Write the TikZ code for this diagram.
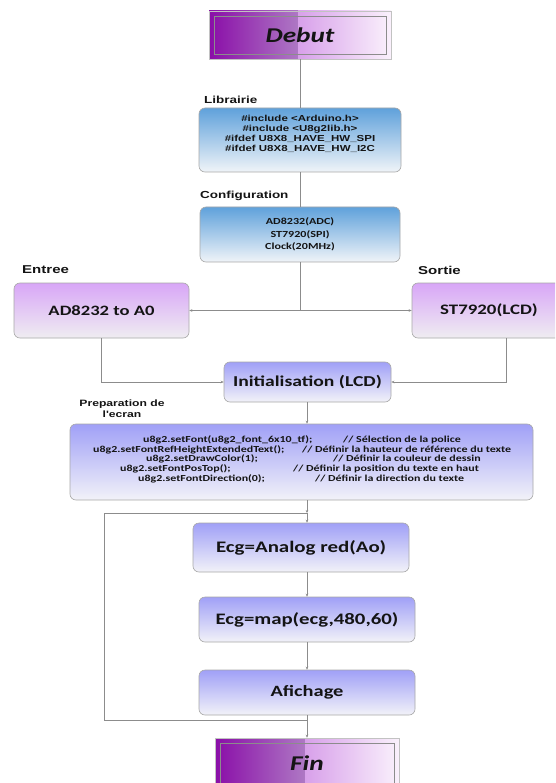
\documentclass[tikz,border=0pt]{standalone}
\usepackage{fontspec}
\usetikzlibrary{arrows.meta}
\newfontfamily\boxfont[FakeStretch=1.3]{Carlito}
\newfontfamily\labfont[FakeStretch=1.32]{Liberation Sans}
\definecolor{linegray}{HTML}{8C8C8C}
\definecolor{edgegray}{HTML}{A8A8A8}
\definecolor{inkc}{HTML}{141414}
\definecolor{purpA}{HTML}{8A0EA8}
\definecolor{purpB}{HTML}{AE78C4}
\definecolor{purpC}{HTML}{D8A0EA}
\definecolor{purpD}{HTML}{FAF1FC}
\definecolor{blueTop}{HTML}{5FA1DB}
\definecolor{blueMid}{HTML}{B4D4EE}
\definecolor{blueBot}{HTML}{F0F4F8}
\definecolor{lavTop}{HTML}{D8A6F7}
\definecolor{lavMid}{HTML}{EEDDF8}
\definecolor{lavBot}{HTML}{EFEDF1}
\definecolor{periTop}{HTML}{A0A0F7}
\definecolor{periMid}{HTML}{CFCFF8}
\definecolor{periBot}{HTML}{F2F2F8}
\tikzset{
  box/.style={draw=edgegray, line width=0.6pt, rounded corners=6pt, inner sep=0pt, text=inkc},
  bluebox/.style={box, top color=blueTop, middle color=blueMid, bottom color=blueBot},
  lavbox/.style={box, top color=lavTop, middle color=lavMid, bottom color=lavBot},
  peribox/.style={box, top color=periTop, middle color=periMid, bottom color=periBot},
  endbox/.style={draw=edgegray!70, line width=0.6pt, inner sep=0pt, text=inkc,
    font=\boxfont\bfseries\itshape\fontsize{21}{24}\selectfont},
  caption/.style={inner sep=0pt, text=inkc},
  link/.style={draw=linegray, line width=0.6pt},
  arr/.style={link, -{Stealth[length=3pt,width=2.6pt]}},
  codetxt/.style={inner sep=0pt, anchor=base west, text=inkc,
    font=\boxfont\bfseries\fontsize{9.2}{10}\selectfont},
}
\begin{document}
\begin{tikzpicture}[x=1pt,y=-1pt]
\clip (0,0) rectangle (555,783);
\useasboundingbox (0,0) rectangle (555,783);
\fill[white] (0,0) rectangle (555,783);

% start block
\shade[left color=purpA, right color=purpB] (209,11) rectangle (298,59);
\shade[left color=purpC, right color=purpD] (298,11) rectangle (391,59);
\node[endbox, minimum width=182pt, minimum height=48pt] (debut) at (300,35) {Debut};
\draw[black!45, line width=0.5pt] (214,16) rectangle (386,54);

% libraries
\node[caption, anchor=west, font=\labfont\bfseries\fontsize{10.2}{12}\selectfont] (liblab) at (204,100) {Librairie};
\node[bluebox, minimum width=202pt, minimum height=64pt] (lib) at (300,140) {};
\node[caption, align=center, font=\labfont\bfseries\fontsize{8.7}{10}\selectfont] (libtxt) at (300,134)
  {\#include <Arduino.h>\\ \#include <U8g2lib.h>\\ \#ifdef U8X8\_HAVE\_HW\_SPI\\ \#ifdef U8X8\_HAVE\_HW\_I2C};

% configuration
\node[caption, anchor=west, font=\labfont\bfseries\fontsize{10.2}{12}\selectfont] (conflab) at (200,196) {Configuration};
\node[bluebox, minimum width=200pt, minimum height=55pt, align=center,
  font=\boxfont\bfseries\fontsize{9.3}{12.3}\selectfont] (conf) at (300,234.5)
  {AD8232(ADC)\\ ST7920(SPI)\\ Clock(20MHz)};

% input / output
\node[caption, anchor=west, font=\labfont\bfseries\fontsize{11.4}{13}\selectfont] (inlab) at (22,270) {Entree};
\node[lavbox, minimum width=175pt, minimum height=55pt,
  font=\boxfont\bfseries\fontsize{14.3}{16}\selectfont] (inbox) at (101.5,310.5) {AD8232 to A0};
\node[caption, anchor=west, font=\labfont\bfseries\fontsize{11.4}{13}\selectfont] (outlab) at (418,270) {Sortie};
\node[lavbox, minimum width=153pt, minimum height=55pt] (outbox) at (488.5,310.5) {};
\node[caption, font=\boxfont\bfseries\fontsize{14.5}{16}\selectfont] (outtxt) at (489,310.5) {ST7920(LCD)};

% initialisation
\node[peribox, minimum width=167pt, minimum height=40pt,
  font=\boxfont\bfseries\fontsize{15.1}{17}\selectfont] (init) at (307.5,382) {Initialisation (LCD)};

% screen preparation
\node[caption, align=center, font=\labfont\bfseries\fontsize{9.2}{10.5}\selectfont] (preplab) at (122,408.5) {Preparation de\\ l'ecran};
\node[peribox, minimum width=463pt, minimum height=76pt] (prep) at (301.5,462) {};
\node[codetxt] (c1) at (143,442) {u8g2.setFont(u8g2\_font\_6x10\_tf);};
\node[codetxt] (k1) at (343,442) {// Sélection de la police};
\node[codetxt] (c2) at (93,452) {u8g2.setFontRefHeightExtendedText();};
\node[codetxt] (k2) at (302,452) {// Définir la hauteur de référence du texte};
\node[codetxt] (c3) at (146,461.5) {u8g2.setDrawColor(1);};
\node[codetxt] (k3) at (333,461.5) {// Définir la couleur de dessin};
\node[codetxt] (c4) at (120,471) {u8g2.setFontPosTop();};
\node[codetxt] (k4) at (293,471) {// Définir la position du texte en haut};
\node[codetxt] (c5) at (138,481) {u8g2.setFontDirection(0);};
\node[codetxt] (k5) at (315,481) {// Définir la direction du texte};

% main loop
\node[peribox, minimum width=216pt, minimum height=49pt,
  font=\boxfont\bfseries\fontsize{16.1}{18}\selectfont] (read) at (301,547.5) {Ecg=Analog red(Ao)};
\node[peribox, minimum width=216pt, minimum height=45pt,
  font=\boxfont\bfseries\fontsize{16}{18}\selectfont] (map) at (307,619.5) {Ecg=map(ecg,480,60)};
\node[peribox, minimum width=216pt, minimum height=45pt,
  font=\boxfont\bfseries\fontsize{15.7}{18}\selectfont] (show) at (307,692.5) {Afichage};

% end block
\shade[left color=purpA, right color=purpB] (215,738) rectangle (305,800);
\shade[left color=purpC, right color=purpD] (305,738) rectangle (399,800);
\node[endbox, minimum width=184pt, minimum height=62pt] (fin) at (307,769) {};
\node[caption, font=\boxfont\bfseries\itshape\fontsize{21}{24}\selectfont] (fintxt) at (307,763) {Fin};
\draw[black!45, line width=0.5pt] (220,743) rectangle (394,800);

% loop junctions
\coordinate (jtop) at (307,513);
\coordinate (jbot) at (307,720);
\coordinate (split) at (300,310.5);

% connectors
\draw[link] (debut.south -| lib.north) -- (lib.north);
\draw[link] (lib.south) -- (conf.north);
\draw[link] (conf.south) -- (split);
\draw[arr] (split) -- (inbox.east);
\draw[arr] (split) -- (outbox.west);
\draw[arr] (inbox.south) |- (init.west);
\draw[arr] (outbox.south -| 506.7,0) |- (init.east);
\draw[arr] (init.south -| jtop) -- (prep.north -| jtop);
\draw[arr] (prep.south -| jtop) -- (jtop);
\draw[arr] (jtop) -- (read.north -| jtop);
\draw[arr] (read.south -| jtop) -- (map.north);
\draw[arr] (map.south) -- (show.north);
\draw[arr] (show.south) -- (fin.north);
\draw[link] (jbot) -- (104,720) -- (104,513) -- (jtop);
\end{tikzpicture}
\end{document}
